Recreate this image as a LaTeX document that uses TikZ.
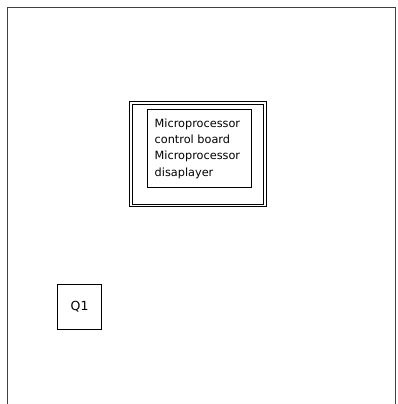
\documentclass[tikz,border=0pt]{standalone}
\usepackage{fontspec}
\setmainfont{DejaVu Sans}
\begin{document}
\begin{tikzpicture}[x=1pt,y=-1pt,
  frameline/.style={draw=black!75,line width=1.4pt},
  boxline/.style={draw=black,line width=1pt},
  lbl/.style={font=\fontsize{11.3}{16.2}\selectfont,align=left,inner sep=0pt,anchor=base west}]
\useasboundingbox (0,0) rectangle (398,404);
\fill[white] (0,0) rectangle (398,404);
\draw[frameline] (7.5,404) -- (7.5,7.5) -- (395.5,7.5) -- (395.5,404);
\node[boxline,minimum width=137pt,minimum height=105pt,inner sep=0pt] (outer) at (198,154.2) {};
\node[boxline,minimum width=131pt,minimum height=100pt,inner sep=0pt] (outerin) at (198.3,154) {};
\node[boxline,minimum width=104.4pt,minimum height=78.4pt,inner sep=0pt] (inner) at (199.5,148.5) {};
\node[lbl] (txt) at (154.5,176) {Microprocessor\\control board\\Microprocessor\\disaplayer};
\node[boxline,minimum width=44.7pt,minimum height=45.3pt,inner sep=0pt,font=\fontsize{12.5}{14}\selectfont] (q1) at (79.6,306.7) {Q1};
\end{tikzpicture}
\end{document}
